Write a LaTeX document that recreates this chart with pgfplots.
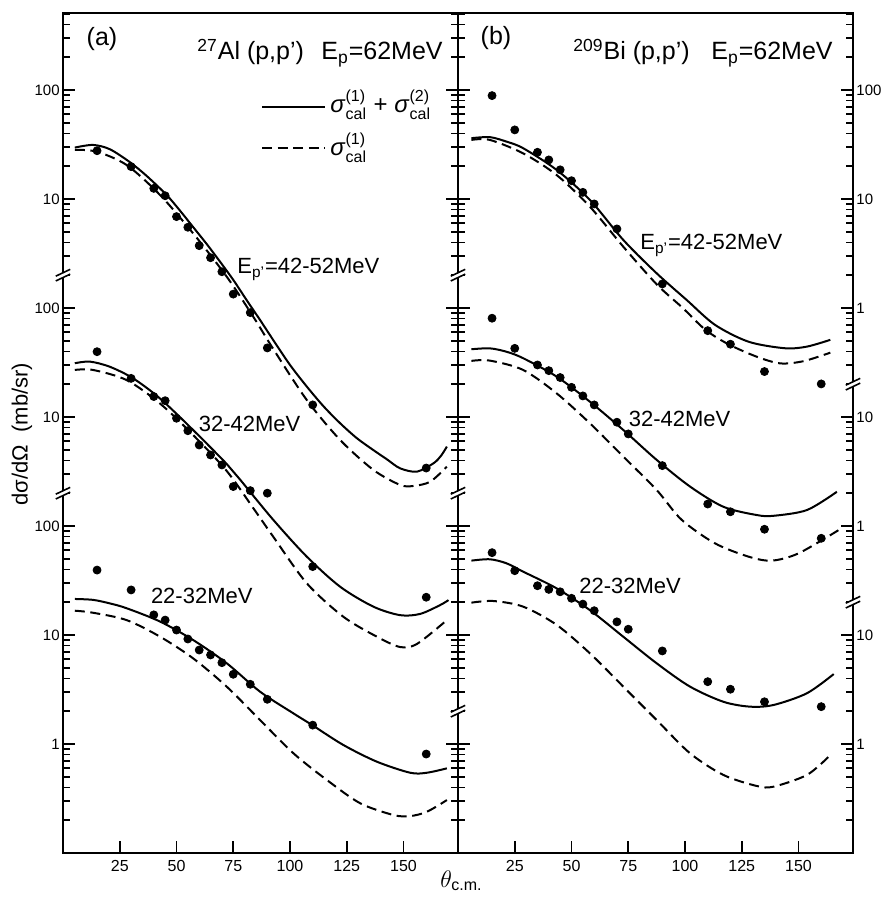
\documentclass[border=0pt]{standalone}
\usepackage{pgfplots}
\pgfplotsset{compat=1.18}
\usepackage{pgfplotstable}
\usepackage{fontspec}
\setmainfont{Liberation Sans}

% ---------------- panel (a): 27Al ----------------
\pgfplotstableread{
t v
15 27.7
30 19.8
40 12.5
45 10.7
50 6.89
55 5.50
60 3.73
65 2.89
70 2.15
75 1.34
82.5 0.906
90 0.430
110 0.129
160 0.034
}\aTopPts
\pgfplotstableread{
t v
5.2 29.6
13.2 31.3
20.6 28.6
29.4 21.8
36.8 16.3
45.6 10.9
51.5 7.83
57.3 5.53
63.3 3.86
69.1 2.67
75.0 1.81
80.9 1.18
86.8 0.776
92.6 0.508
100.0 0.30
107.4 0.190
114.8 0.125
122.1 0.0875
129.4 0.064
136.7 0.0497
142.6 0.041
148.5 0.0338
155.9 0.0315
163.2 0.0376
166.5 0.044
169.1 0.0535
}\aTopSol
\pgfplotstableread{
t v
5.2 28.2
14.7 27.2
28.0 20.5
42.7 10.9
57.3 4.84
72.1 1.94
83.8 0.832
92.6 0.421
107.4 0.143
122.1 0.0615
136.7 0.0327
148.5 0.0238
154.4 0.0233
161.8 0.0255
169.1 0.0350
}\aTopDash
\pgfplotstableread{
t v
15 39.7
30 22.6
40 15.4
45 14.1
50 9.73
55 7.48
60 5.53
65 4.48
70 3.63
75 2.30
82.5 2.11
90 2.00
110 0.424
160 0.222
}\aMidPts
\pgfplotstableread{
t v
5.2 31.1
11.8 32.2
20.6 28.9
30.9 22.6
42.7 14.8
57.3 7.60
72.1 3.71
77.9 2.68
92.6 1.14
107.4 0.523
122.1 0.277
136.7 0.182
148.5 0.152
157.3 0.156
166.1 0.188
169.8 0.209
}\aMidSol
\pgfplotstableread{
t v
5.2 27.0
13.2 27.0
28.0 21.8
42.7 13.3
57.3 6.84
72.1 3.20
83.8 1.46
92.6 0.798
107.4 0.298
123.5 0.147
138.2 0.0966
148.5 0.0776
156.0 0.0830
169.1 0.137
}\aMidDash
\pgfplotstableread{
t v
15 39.4
30 25.9
40 15.3
45 13.7
50 11.1
55 9.19
60 7.28
65 6.56
70 5.57
75 4.36
82.5 3.53
90 2.57
110 1.49
160 0.809
}\aLowPts
\pgfplotstableread{
t v
5.2 21.4
13.2 21.0
20.6 19.5
28.0 17.6
42.7 13.3
57.3 9.0
72.1 5.51
86.8 3.02
101.5 1.91
109.8 1.49
123.5 0.979
138.2 0.689
152.9 0.545
160.3 0.545
169.1 0.598
}\aLowSol
\pgfplotstableread{
t v
5.2 16.7
13.2 16.0
28.0 13.7
42.7 9.66
57.3 6.11
72.1 3.36
86.8 1.66
101.5 0.822
116.2 0.468
130.9 0.286
145.6 0.223
152.9 0.218
160.3 0.239
169.1 0.306
}\aLowDash

% ---------------- panel (b): 209Bi ----------------
\pgfplotstableread{
t v
15 88.7
25 43.0
35 26.8
40 22.8
45 18.5
50 14.7
55 11.5
60 9.0
70 5.31
90 1.66
110 0.619
120 0.465
135 0.261
160 0.201
}\bTopPts
\pgfplotstableread{
t v
5.9 36.1
14.0 36.9
21.3 33.6
28.7 29.2
43.4 18.5
58.1 9.80
72.8 4.21
87.5 2.08
100.8 1.18
113.2 0.70
128.0 0.49
144.0 0.427
153.7 0.442
164.0 0.51
}\bTopSol
\pgfplotstableread{
t v
5.9 34.8
14.0 34.8
28.7 26.2
43.4 16.6
58.1 8.49
72.8 3.65
87.5 1.65
99.0 1.00
109.0 0.63
119.1 0.465
131.6 0.357
142.0 0.310
152.2 0.325
164.0 0.389
}\bTopDash
\pgfplotstableread{
t v
15 80.5
25 42.6
35 30.0
40 26.6
45 23.0
50 18.7
55 15.6
60 12.9
70 8.95
75 6.99
90 3.58
110 1.59
120 1.35
135 0.933
160 0.771
}\bMidPts
\pgfplotstableread{
t v
5.9 41.8
14.0 42.6
21.3 39.7
28.7 34.6
43.4 23.5
58.1 13.8
72.8 7.60
87.5 4.04
102.2 2.30
116.9 1.50
131.6 1.26
139.0 1.24
153.7 1.40
166.9 2.06
}\bMidSol
\pgfplotstableread{
t v
5.9 32.7
14.0 32.9
28.7 27.0
43.4 16.5
58.1 8.75
72.8 4.33
87.5 2.14
98.5 1.14
113.2 0.693
128.0 0.523
138.2 0.481
150.0 0.561
167.7 0.918
}\bMidDash
\pgfplotstableread{
t v
15 56.9
25 38.9
35 28.3
40 26.2
45 24.9
50 21.7
55 19.2
60 16.7
70 13.2
75 11.3
90 7.14
110 3.73
120 3.18
135 2.44
160 2.20
}\bLowPts
\pgfplotstableread{
t v
5.9 48.1
14.0 49.5
21.3 45.5
28.7 38.1
43.4 26.8
58.1 16.9
72.8 9.64
87.5 5.50
102.2 3.36
116.9 2.44
128.7 2.20
139.0 2.28
153.7 2.92
165.5 4.38
}\bLowSol
\pgfplotstableread{
t v
5.9 19.8
15.5 20.5
28.7 18.2
43.4 12.4
58.1 6.79
72.8 3.36
87.5 1.66
102.2 0.822
116.9 0.520
131.6 0.412
139.0 0.406
153.7 0.520
163.3 0.766
}\bLowDash

\newcommand{\ssz}{\fontsize{8}{9}\selectfont}
\newcommand{\sig}[1]{\textit{σ}$^{\mbox{\ssz(#1)}}_{\mbox{\ssz cal}}$}
\newcommand{\brk}[2]{%
  \fill[white] (axis cs:#1,#2) ++(-2.4pt,-1.1pt) rectangle ++(4.8pt,2.2pt);
  \draw[line width=0.8pt] (axis cs:#1,#2) ++(-3.6pt,-2.9pt) -- ++(7.2pt,3.4pt);
  \draw[line width=0.8pt] (axis cs:#1,#2) ++(-3.6pt,-0.5pt) -- ++(7.2pt,3.4pt);
}
\tikzset{
  sol/.style={black, line width=1pt, smooth},
  dsh/.style={black, line width=1pt, smooth, dash pattern=on 5pt off 2.8pt},
}

\begin{document}
\begin{tikzpicture}
\path[use as bounding box] (-31.5pt,-22.5pt) rectangle (410pt,426.5pt);

% ---------- panel (a) ----------
\begin{axis}[name=pa, at={(0pt,0pt)}, anchor=south west,
  scale only axis, width=197.5pt, height=420pt,
  ymode=log, xmin=0, xmax=174, ymin=1e-5, ymax=508,
  clip=false,
  axis line style={line width=1.4pt},
  xtick={25,50,75,100,125,150}, xtick pos=left,
  ytick={1e-4,1e-3,1e-2,1e-1,1,10,100},
  yticklabels={1,10,100,10,100,10,100},
  minor ytick={2e-5,3e-5,4e-5,5e-5,6e-5,7e-5,8e-5,9e-5,
    2e-4,3e-4,4e-4,5e-4,6e-4,7e-4,8e-4,9e-4,
    0.002,0.003,0.004,0.005,0.006,0.007,0.008,0.009,
    0.02,0.03,0.04,0.05,0.06,0.07,0.08,0.09,
    0.2,0.3,0.4,0.5,0.6,0.7,0.8,0.9,
    2,3,4,5,6,7,8,9,20,30,40,50,60,70,80,90,200,300,400,500},
  major tick length=6pt, minor tick length=3.5pt,
  tick style={black, line width=0.8pt},
  xticklabel style={font=\fontsize{8}{9}\selectfont},
  yticklabel style={font=\fontsize{7.5}{9}\selectfont, inner sep=1.5pt},
  /pgf/number format/assume math mode=true,
]
\addplot[sol, no markers] table[x=t, y=v] {\aTopSol};
\addplot[dsh, no markers] table[x=t, y=v] {\aTopDash};
\addplot[black, only marks, mark=*, mark size=2pt] table[x=t, y=v] {\aTopPts};
\addplot[sol, no markers] table[x=t, y expr=\thisrow{v}*1e-2] {\aMidSol};
\addplot[dsh, no markers] table[x=t, y expr=\thisrow{v}*1e-2] {\aMidDash};
\addplot[black, only marks, mark=*, mark size=2pt] table[x=t, y expr=\thisrow{v}*1e-2] {\aMidPts};
\addplot[sol, no markers] table[x=t, y expr=\thisrow{v}*1e-4] {\aLowSol};
\addplot[dsh, no markers] table[x=t, y expr=\thisrow{v}*1e-4] {\aLowDash};
\addplot[black, only marks, mark=*, mark size=2pt] table[x=t, y expr=\thisrow{v}*1e-4] {\aLowPts};
\brk{0}{2}
\brk{0}{0.02}
\end{axis}

% ---------- panel (b) ----------
\begin{axis}[name=pb, at={(197.5pt,0pt)}, anchor=south west,
  scale only axis, width=197.5pt, height=420pt,
  ymode=log, xmin=0, xmax=174, ymin=1e-5, ymax=508,
  clip=false,
  axis line style={line width=1.4pt},
  xtick={25,50,75,100,125,150}, xtick pos=left,
  ytick={1e-4,1e-3,1e-2,1e-1,1,10,100},
  yticklabels={1,10,1,10,1,10,100},
  yticklabel pos=right,
  minor ytick={2e-5,3e-5,4e-5,5e-5,6e-5,7e-5,8e-5,9e-5,
    2e-4,3e-4,4e-4,5e-4,6e-4,7e-4,8e-4,9e-4,
    0.002,0.003,0.004,0.005,0.006,0.007,0.008,0.009,
    0.02,0.03,0.04,0.05,0.06,0.07,0.08,0.09,
    0.2,0.3,0.4,0.5,0.6,0.7,0.8,0.9,
    2,3,4,5,6,7,8,9,20,30,40,50,60,70,80,90,200,300,400,500},
  major tick length=6pt, minor tick length=3.5pt,
  tick style={black, line width=0.8pt},
  xticklabel style={font=\fontsize{8}{9}\selectfont},
  yticklabel style={font=\fontsize{7.5}{9}\selectfont, inner sep=1.5pt},
  /pgf/number format/assume math mode=true,
]
\addplot[sol, no markers] table[x=t, y=v] {\bTopSol};
\addplot[dsh, no markers] table[x=t, y=v] {\bTopDash};
\addplot[black, only marks, mark=*, mark size=2pt] table[x=t, y=v] {\bTopPts};
\addplot[sol, no markers] table[x=t, y expr=\thisrow{v}*1e-2] {\bMidSol};
\addplot[dsh, no markers] table[x=t, y expr=\thisrow{v}*1e-2] {\bMidDash};
\addplot[black, only marks, mark=*, mark size=2pt] table[x=t, y expr=\thisrow{v}*1e-2] {\bMidPts};
\addplot[sol, no markers] table[x=t, y expr=\thisrow{v}*1e-4] {\bLowSol};
\addplot[dsh, no markers] table[x=t, y expr=\thisrow{v}*1e-4] {\bLowDash};
\addplot[black, only marks, mark=*, mark size=2pt] table[x=t, y expr=\thisrow{v}*1e-4] {\bLowPts};
\brk{0}{2}
\brk{0}{0.02}
\brk{0}{2e-4}
\brk{174}{0.2}
\brk{174}{0.002}
\end{axis}

% ---------- legend (key) ----------
\draw[sol] (99.5pt,373pt) -- (131pt,373pt);
\draw[dsh] (99.5pt,352.5pt) -- (131pt,352.5pt);
\node[font=\fontsize{12}{14}\selectfont, anchor=base west, inner sep=0pt] at (133.5pt,370pt) {\sig{1} + \sig{2}};
\node[font=\fontsize{12}{14}\selectfont, anchor=base west, inner sep=0pt] at (133.5pt,348.5pt) {\sig{1}};

% ---------- texts ----------
\begin{scope}[every node/.style={inner sep=0pt}]
\node[font=\fontsize{12.5}{14}\selectfont] at (19.5pt,407pt) {(a)};
\node[font=\fontsize{12.5}{14}\selectfont, anchor=base west] at (67pt,396.5pt) {\textsuperscript{27}Al (p,p')};
\node[font=\fontsize{12.5}{14}\selectfont, anchor=base east] at (190pt,396.5pt) {E\textsubscript{p}=62MeV};
\node[font=\fontsize{12.5}{14}\selectfont] at (216.5pt,407.5pt) {(b)};
\node[font=\fontsize{12.5}{14}\selectfont, anchor=base west] at (255pt,396.5pt) {\textsuperscript{209}Bi (p,p')};
\node[font=\fontsize{12.5}{14}\selectfont, anchor=base east] at (385pt,396.5pt) {E\textsubscript{p}=62MeV};
\node[font=\fontsize{11}{13}\selectfont, anchor=base west] at (87pt,289.5pt) {E\textsubscript{p'}=42-52MeV};
\node[font=\fontsize{11}{13}\selectfont, anchor=base west] at (288.5pt,301.5pt) {E\textsubscript{p'}=42-52MeV};
\node[font=\fontsize{11}{13}\selectfont, anchor=base west] at (67.7pt,210.7pt) {32-42MeV};
\node[font=\fontsize{11}{13}\selectfont, anchor=base west] at (282.7pt,213.2pt) {32-42MeV};
\node[font=\fontsize{11}{13}\selectfont, anchor=base west] at (43.8pt,124.8pt) {22-32MeV};
\node[font=\fontsize{11}{13}\selectfont, anchor=base west] at (258pt,129.8pt) {22-32MeV};
\node[font=\fontsize{11}{13}\selectfont, rotate=90] at (-20.5pt,209.5pt) {dσ/dΩ\ \ (mb/sr)};
\node[font=\fontsize{13}{15}\selectfont, anchor=base west] at (188.5pt,-17pt) {$\theta_{\mbox{\ssz c.m.}}$};
\end{scope}
\end{tikzpicture}
\end{document}
